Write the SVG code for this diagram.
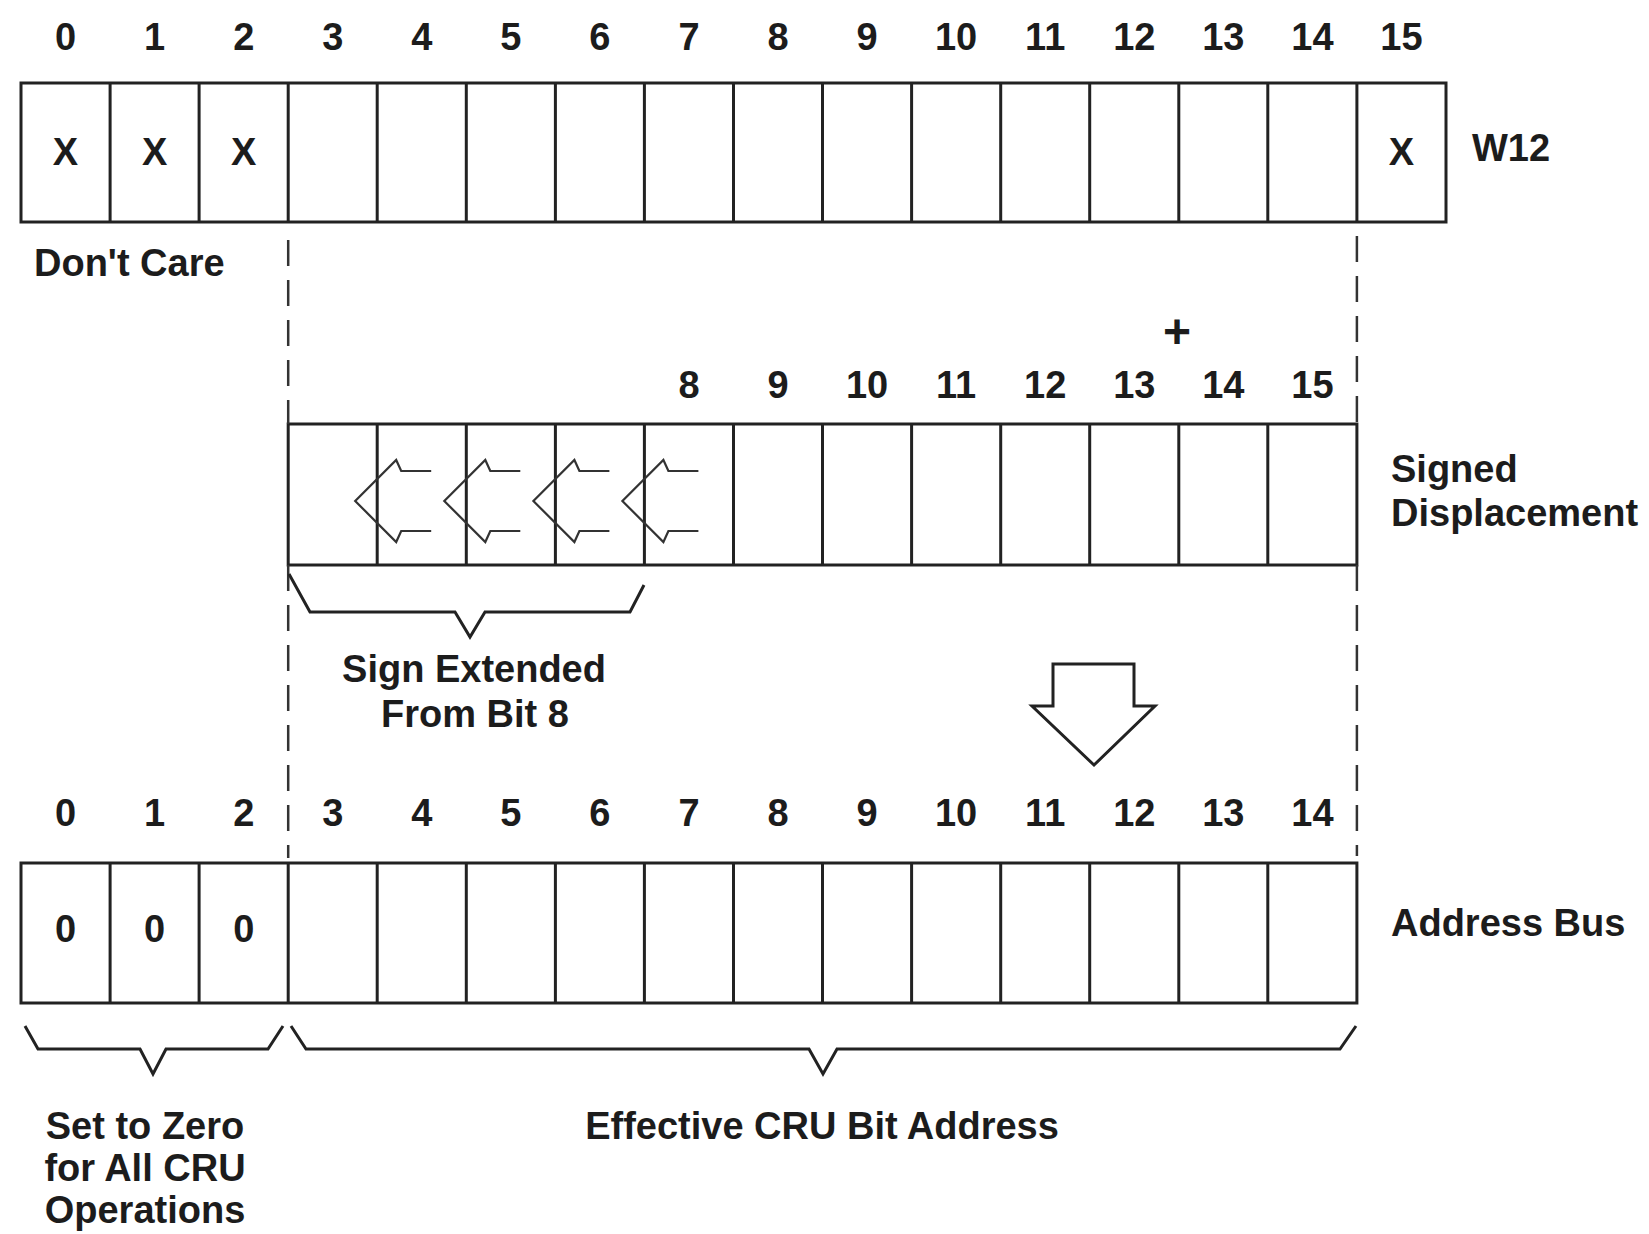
<svg xmlns="http://www.w3.org/2000/svg" width="1649" height="1234" viewBox="0 0 1649 1234">
<style>
.cell{fill:none;stroke:#222;stroke-width:3}
.div{stroke:#222;stroke-width:3}
.t{font-family:"Liberation Sans",Arial,sans-serif;font-weight:bold;font-size:38px;fill:#1c1c1c}
.m{text-anchor:middle}
.dash{stroke:#333;stroke-width:2.5;stroke-dasharray:26 14;fill:none}
.brace{fill:none;stroke:#222;stroke-width:3;stroke-linejoin:miter}
.sx{fill:none;stroke:#333;stroke-width:2.2}
</style>
<defs>
<path id="sxarrow" class="sx" d="M54,-30 L24,-30 L19,-41 L-22,0 L19,41 L24,30 L54,30"/>
</defs>
<rect width="1649" height="1234" fill="#fff"/>

<g id="w12-register">
<rect class="cell" x="21" y="83" width="1425" height="139"/>
<path class="div" d="M110.1,83V222M199.1,83V222M288.2,83V222M377.2,83V222M466.3,83V222M555.4,83V222M644.4,83V222M733.5,83V222M822.5,83V222M911.6,83V222M1000.7,83V222M1089.7,83V222M1178.8,83V222M1267.8,83V222M1356.9,83V222"/>
<g class="t m">
<text x="65.5" y="50">0</text><text x="154.6" y="50">1</text><text x="243.7" y="50">2</text><text x="332.7" y="50">3</text><text x="421.8" y="50">4</text><text x="510.9" y="50">5</text><text x="599.9" y="50">6</text><text x="689" y="50">7</text><text x="778" y="50">8</text><text x="867.1" y="50">9</text><text x="956.1" y="50">10</text><text x="1045.2" y="50">11</text><text x="1134.3" y="50">12</text><text x="1223.3" y="50">13</text><text x="1312.4" y="50">14</text><text x="1401.5" y="50">15</text>
<text x="65.5" y="165">X</text><text x="154.6" y="165">X</text><text x="243.7" y="165">X</text><text x="1401.5" y="165">X</text>
</g>
<text class="t" x="1472" y="161">W12</text>
<text class="t" x="34" y="276">Don't Care</text>
</g>

<g id="displacement-register">
<rect class="cell" x="288.2" y="424" width="1068.7" height="141"/>
<path class="div" d="M377.2,424V565M466.3,424V565M555.4,424V565M644.4,424V565M733.5,424V565M822.5,424V565M911.6,424V565M1000.7,424V565M1089.7,424V565M1178.8,424V565M1267.8,424V565"/>
<g class="t m">
<text x="689" y="398">8</text><text x="778" y="398">9</text><text x="867.1" y="398">10</text><text x="956.1" y="398">11</text><text x="1045.2" y="398">12</text><text x="1134.3" y="398">13</text><text x="1223.3" y="398">14</text><text x="1312.4" y="398">15</text>
<text x="1177" y="348" style="font-size:48px">+</text>
</g>
<text class="t" x="1391" y="482">Signed</text>
<text class="t" x="1391" y="526">Displacement</text>
</g>

<g id="address-bus-register">
<rect class="cell" x="21" y="863" width="1335.9" height="140"/>
<path class="div" d="M110.1,863V1003M199.1,863V1003M288.2,863V1003M377.2,863V1003M466.3,863V1003M555.4,863V1003M644.4,863V1003M733.5,863V1003M822.5,863V1003M911.6,863V1003M1000.7,863V1003M1089.7,863V1003M1178.8,863V1003M1267.8,863V1003"/>
<g class="t m">
<text x="65.5" y="826">0</text><text x="154.6" y="826">1</text><text x="243.7" y="826">2</text><text x="332.7" y="826">3</text><text x="421.8" y="826">4</text><text x="510.9" y="826">5</text><text x="599.9" y="826">6</text><text x="689" y="826">7</text><text x="778" y="826">8</text><text x="867.1" y="826">9</text><text x="956.1" y="826">10</text><text x="1045.2" y="826">11</text><text x="1134.3" y="826">12</text><text x="1223.3" y="826">13</text><text x="1312.4" y="826">14</text>
<text x="65.5" y="942">0</text><text x="154.6" y="942">0</text><text x="243.7" y="942">0</text>
</g>
<text class="t" x="1391" y="936">Address Bus</text>
</g>

<g id="connectors">
<path class="dash" d="M288.2,240V424M288.2,565V858"/>
<path class="dash" d="M1356.9,236V424M1356.9,565V856"/>
<use href="#sxarrow" x="377.2" y="501"/>
<use href="#sxarrow" x="466.3" y="501"/>
<use href="#sxarrow" x="555.4" y="501"/>
<use href="#sxarrow" x="644.4" y="501"/>
<path class="brace" d="M289,574 L310,612 L455,612 L470,637 L485,612 L630,612 L644,585"/>
<path class="brace" d="M25,1026 L38,1049 L140,1049 L153,1074 L166,1049 L268,1049 L283,1026"/>
<path class="brace" d="M291,1026 L306,1049 L809,1049 L823,1074 L837,1049 L1340,1049 L1356,1026"/>
<path class="brace" d="M1053,664 L1134,664 L1134,706 L1155,706 L1094,765 L1032,706 L1053,706 Z"/>
</g>

<g id="annotations" class="t m">
<text x="474" y="682">Sign Extended</text>
<text x="475" y="727">From Bit 8</text>
<text x="145" y="1139">Set to Zero</text>
<text x="145" y="1181">for All CRU</text>
<text x="145" y="1223">Operations</text>
<text x="822" y="1139">Effective CRU Bit Address</text>
</g>
</svg>
